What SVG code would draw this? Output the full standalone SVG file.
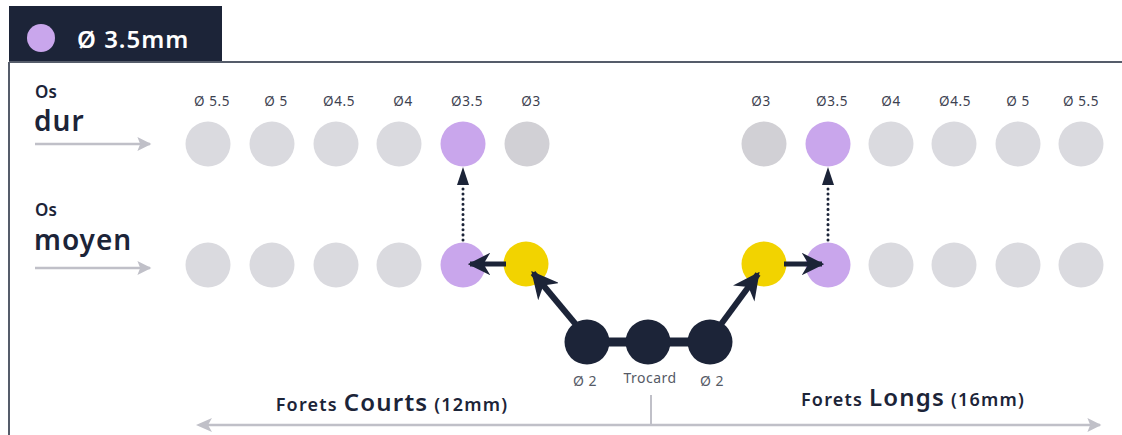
<svg xmlns="http://www.w3.org/2000/svg" width="1122" height="435" viewBox="0 0 1122 435">
<style>
.lbl{font-family:"Noto Sans","Liberation Sans",sans-serif;font-size:13.5px;letter-spacing:0.6px;fill:#3c4150;text-anchor:middle}
.lbl2{font-family:"Noto Sans","Liberation Sans",sans-serif;font-size:14px;letter-spacing:0.5px;fill:#555a66;text-anchor:middle}
.g{fill:#dadadf}
.g3{fill:#d1d0d5}
.p{fill:#c9a6ec}
.y{fill:#f2d300}
.d{fill:#1c2438}
.side1{font-family:"Noto Sans","Liberation Sans",sans-serif;font-size:17px;font-weight:600;fill:#1c2438}
.side2{font-family:"Noto Sans","Liberation Sans",sans-serif;font-size:28px;font-weight:600;letter-spacing:1px;fill:#1c2438}
.bot{font-family:"Noto Sans","Liberation Sans",sans-serif;font-weight:600;fill:#1c2438;text-anchor:middle;letter-spacing:1.2px}
</style>
<defs>
<marker id="ah" viewBox="0 0 10 10" refX="9" refY="5" markerWidth="4.5" markerHeight="4.5" orient="auto" markerUnits="strokeWidth"><path d="M0,0 L10,5 L0,10 L3,5 Z" fill="#1c2438"/></marker>
<marker id="ga" viewBox="0 0 10 10" refX="9" refY="5" markerWidth="16" markerHeight="14" orient="auto" markerUnits="userSpaceOnUse"><path d="M0,0 L10,5 L0,10 L2,5 Z" fill="#c0c0c8"/></marker>
</defs>

<g id="header">
<rect x="9" y="6" width="213" height="57" fill="#1c2438"/>
<circle cx="41" cy="38" r="14" fill="#c9a6ec"/>
<text x="77" y="48" font-family="'Noto Sans','Liberation Sans',sans-serif" font-size="24" font-weight="600" letter-spacing="1" fill="#ffffff">Ø 3.5mm</text>
</g>
<g id="frame" fill="none" stroke="#555c6a" stroke-width="2">
<path d="M9,62 L1122,62 M9,62 L9,435"/>
</g>

<g id="side-labels">
<text class="side1" x="35" y="98">Os</text>
<text class="side2" x="34" y="131">dur</text>
<text class="side1" x="35" y="216">Os</text>
<text class="side2" x="34" y="250">moyen</text>
</g>

<g id="labels">
<text class="lbl" x="212" y="106">Ø 5.5</text>
<text class="lbl" x="276" y="106">Ø 5</text>
<text class="lbl" x="339" y="106">Ø4.5</text>
<text class="lbl" x="403" y="106">Ø4</text>
<text class="lbl" x="467" y="106">Ø3.5</text>
<text class="lbl" x="531" y="106">Ø3</text>
<text class="lbl" x="761" y="106">Ø3</text>
<text class="lbl" x="832" y="106">Ø3.5</text>
<text class="lbl" x="891" y="106">Ø4</text>
<text class="lbl" x="955" y="106">Ø4.5</text>
<text class="lbl" x="1018" y="106">Ø 5</text>
<text class="lbl" x="1081" y="106">Ø 5.5</text>
<text class="lbl2" x="585" y="386">Ø 2</text>
<text class="lbl2" x="650" y="383">Trocard</text>
<text class="lbl2" x="712" y="386">Ø 2</text>
</g>

<g id="row-dur">
<circle id="d-l55" class="g" cx="208" cy="144" r="22.5"/>
<circle id="d-l5" class="g" cx="272" cy="144" r="22.5"/>
<circle id="d-l45" class="g" cx="336" cy="144" r="22.5"/>
<circle id="d-l4" class="g" cx="399" cy="144" r="22.5"/>
<circle id="d-l35" class="p" cx="463" cy="144" r="22.5"/>
<circle id="d-l3" class="g3" cx="527" cy="144" r="22.5"/>
<circle id="d-r3" class="g3" cx="764" cy="144" r="22.5"/>
<circle id="d-r35" class="p" cx="828" cy="144" r="22.5"/>
<circle id="d-r4" class="g" cx="891" cy="144" r="22.5"/>
<circle id="d-r45" class="g" cx="954" cy="144" r="22.5"/>
<circle id="d-r5" class="g" cx="1018" cy="144" r="22.5"/>
<circle id="d-r55" class="g" cx="1081" cy="144" r="22.5"/>
</g>

<g id="row-moyen">
<circle id="m-l55" class="g" cx="208" cy="265" r="22.5"/>
<circle id="m-l5" class="g" cx="272" cy="265" r="22.5"/>
<circle id="m-l45" class="g" cx="336" cy="265" r="22.5"/>
<circle id="m-l4" class="g" cx="399" cy="265" r="22.5"/>
<circle id="m-l35" class="p" cx="463" cy="265" r="22.5"/>
<circle id="m-l3" class="y" cx="526" cy="264" r="22.5"/>
<circle id="m-r3" class="y" cx="764" cy="264" r="22.5"/>
<circle id="m-r35" class="p" cx="828" cy="265" r="22.5"/>
<circle id="m-r4" class="g" cx="891" cy="265" r="22.5"/>
<circle id="m-r45" class="g" cx="954" cy="265" r="22.5"/>
<circle id="m-r5" class="g" cx="1018" cy="265" r="22.5"/>
<circle id="m-r55" class="g" cx="1081" cy="265" r="22.5"/>
</g>

<g id="connectors">
<line x1="35" y1="144" x2="150" y2="144" stroke="#c0c0c8" stroke-width="2.5" marker-end="url(#ga)"/>
<line x1="35" y1="268" x2="150" y2="268" stroke="#c0c0c8" stroke-width="2.5" marker-end="url(#ga)"/>
<line x1="587" y1="342" x2="710" y2="342" stroke="#1c2438" stroke-width="9"/>
<line x1="578" y1="327" x2="533" y2="273" stroke="#1c2438" stroke-width="6" marker-end="url(#ah)"/>
<line x1="719" y1="327" x2="758" y2="274" stroke="#1c2438" stroke-width="6" marker-end="url(#ah)"/>
<line x1="506" y1="264" x2="470" y2="264" stroke="#1c2438" stroke-width="5" marker-end="url(#ah)"/>
<line x1="784" y1="264" x2="822" y2="264" stroke="#1c2438" stroke-width="5" marker-end="url(#ah)"/>
<line x1="463" y1="240" x2="463" y2="187" stroke="#1c2438" stroke-width="3" stroke-dasharray="0.1 5" stroke-linecap="round"/>
<path d="M463,167 L469,185 L457,185 Z" fill="#1c2438"/>
<line x1="828" y1="240" x2="828" y2="187" stroke="#1c2438" stroke-width="3" stroke-dasharray="0.1 5" stroke-linecap="round"/>
<path d="M828,167 L834,185 L822,185 Z" fill="#1c2438"/>
<line x1="205" y1="425" x2="1100" y2="425" stroke="#c0c0c8" stroke-width="2.5" marker-end="url(#ga)"/>
<path d="M196,425 L212,418 L208,425 L212,432 Z" fill="#c0c0c8"/>
<line x1="651" y1="395" x2="651" y2="425" stroke="#c0c0c8" stroke-width="2"/>
</g>

<g id="trocard-nodes">
<circle id="n-l2" class="d" cx="587" cy="342" r="22.5"/>
<circle id="n-troc" class="d" cx="648" cy="342" r="22.5"/>
<circle id="n-r2" class="d" cx="710" cy="342" r="22.5"/>
</g>

<g id="bottom-labels">
<text class="bot" x="392" y="411"><tspan font-size="18">Forets </tspan><tspan font-size="24">Courts</tspan><tspan font-size="18"> (12mm)</tspan></text>
<text class="bot" x="913" y="406"><tspan font-size="18">Forets </tspan><tspan font-size="24">Longs</tspan><tspan font-size="18"> (16mm)</tspan></text>
</g>
</svg>
